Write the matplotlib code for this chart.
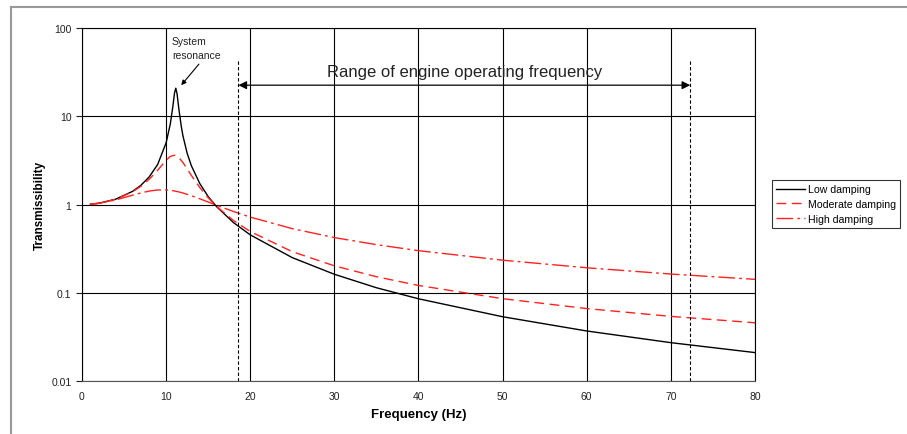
import matplotlib
matplotlib.use("Agg")
import matplotlib.pyplot as plt
from matplotlib.lines import Line2D

plt.rcParams['font.family'] = ['Liberation Sans', 'DejaVu Sans']

# frequency points (Hz) and transmissibility
freq_low = [1, 2, 4, 6, 7, 8, 9, 10, 10.5, 10.8, 11, 11.15, 11.3, 11.5, 11.8,
            12, 12.5, 13, 14, 15, 16, 18, 20, 25, 30, 35, 40, 50, 60, 70, 80]
low = [1.008, 1.033, 1.148, 1.408, 1.65, 2.06, 2.85, 5.0, 8.2, 12.9, 18.4, 20.8,
       18.0, 12.4, 7.7, 6.0, 3.81, 2.75, 1.73, 1.23, 0.946, 0.625, 0.453, 0.25,
       0.162, 0.114, 0.0855, 0.0535, 0.0369, 0.0272, 0.021]

freq = [1, 2, 4, 6, 7, 8, 9, 10, 10.5, 11, 11.5, 12, 13, 14, 15, 16, 18, 20,
        25, 30, 35, 40, 50, 60, 70, 80]
moderate = [1.008, 1.033, 1.146, 1.391, 1.607, 1.935, 2.446, 3.175, 3.507, 3.62,
            3.413, 2.994, 2.139, 1.561, 1.194, 0.952, 0.66, 0.495, 0.292, 0.202,
            0.152, 0.121, 0.0857, 0.0662, 0.054, 0.0457]
high = [1.008, 1.032, 1.127, 1.274, 1.353, 1.421, 1.462, 1.463, 1.45, 1.423,
        1.39, 1.351, 1.259, 1.162, 1.068, 0.981, 0.834, 0.72, 0.533, 0.422,
        0.351, 0.30, 0.234, 0.192, 0.163, 0.142]

range_start = 18.6
range_end = 72.3

fig = plt.figure(figsize=(9.07, 4.35), dpi=100)
ax = fig.add_axes([0.0904, 0.1218, 0.742, 0.8115])

ax.plot(freq_low, low, color='black', lw=1.0, label='Low damping')
ax.plot(freq, moderate, color='#ff2020', lw=1.0, dashes=(7, 4), label='Moderate damping')
ax.plot(freq, high, color='#ff2020', lw=1.0, dashes=(12, 3, 2, 3), label='High damping')

ax.set_yscale('log')
ax.set_xlim(0, 80)
ax.set_ylim(0.01, 100)
ax.set_xticks(range(0, 81, 10))
ax.set_yticks([0.01, 0.1, 1, 10, 100])
ax.set_yticklabels(['0.01', '0.1', '1', '10', '100'])
ax.minorticks_off()
ax.grid(True, color='black', lw=0.8)
ax.tick_params(axis='x', length=0, labelsize=7.5, pad=7, colors='#222222')
ax.tick_params(axis='y', length=4, direction='out', labelsize=7.5, colors='#222222')
for s in ax.spines.values():
    s.set_linewidth(0.8)
ax.spines['bottom'].set_color('#555555')

ax.set_xlabel('Frequency (Hz)', fontsize=9.5, fontweight='bold', labelpad=5)
ax.set_ylabel('Transmissibility', fontsize=8.5, fontweight='bold', labelpad=4)

# operating frequency range
for x in (range_start, range_end):
    ax.plot([x, x], [0.01, 42], color='black', lw=0.8, ls=(0, (3, 2)))
ax.annotate('', xy=(range_start, 22.5), xytext=(range_end, 22.5),
            arrowprops=dict(arrowstyle='<|-|>', color='black', lw=0.9,
                            mutation_scale=12, shrinkA=0, shrinkB=0))
ax.text(45.5, 32, 'Range of engine operating frequency', fontsize=12,
        ha='center', va='center', color='#222222')

# resonance label
ax.text(10.7, 60, 'System\nresonance', fontsize=7.5, ha='left', va='center',
        linespacing=1.5, color='#222222')
ax.annotate('', xy=(11.8, 22.5), xytext=(13.9, 39),
            arrowprops=dict(arrowstyle='-|>', color='black', lw=0.8,
                            mutation_scale=7, shrinkA=0, shrinkB=0))

leg = ax.legend(loc='upper left', bbox_to_anchor=(1.0253, 0.569), fontsize=7.6,
                frameon=True, fancybox=False, edgecolor='black',
                handlelength=2.7, handletextpad=0.3, borderpad=0.4,
                borderaxespad=0, labelspacing=0.45)
leg.get_frame().set_linewidth(0.8)

# outer chart frame
fig.add_artist(Line2D([11 / 907, 1], [1 - 8 / 435, 1 - 8 / 435],
                      transform=fig.transFigure, color='#999999', lw=1.5))
fig.add_artist(Line2D([11 / 907, 11 / 907], [0, 1 - 8 / 435],
                      transform=fig.transFigure, color='#999999', lw=1.5))

fig.savefig('out.png', dpi=100)
